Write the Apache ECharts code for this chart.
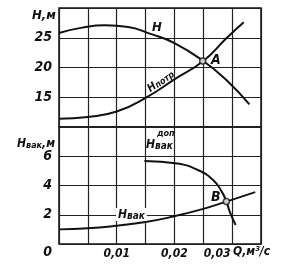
<!DOCTYPE html>
<html>
<head>
<meta charset="utf-8">
<script src="https://cdn.jsdelivr.net/npm/echarts@6/dist/echarts.min.js"></script>
<style>
  html, body { margin: 0; padding: 0; background: #fff; }
  #chart { width: 285px; height: 271px; }
</style>
</head>
<body>
<div id="chart"></div>
<script>
// напор насоса H(Q)
const qPump = [0, 0.004, 0.008, 0.012, 0.016, 0.02, 0.025, 0.029, 0.033]
const hPump = [25.8, 26.7, 27.1, 26.8, 25.6, 24.1, 21.1, 17.9, 13.8]

// потребный напор сети
const qNet = [0, 0.005, 0.01, 0.015, 0.02, 0.025, 0.029, 0.032]
const hNet = [11.4, 11.7, 12.6, 14.9, 18.0, 21.1, 24.9, 27.6]

// вакуумметрическая высота
const qVac = [0, 0.005, 0.01, 0.015, 0.02, 0.025, 0.029, 0.034]
const hVac = [1.0, 1.07, 1.25, 1.5, 1.9, 2.4, 2.9, 3.55]

// допустимая вакуумметрическая высота
const qVacAllow = [0.0148, 0.0205, 0.024, 0.0267, 0.0282, 0.029, 0.0296, 0.0306]
const hVacAllow = [5.68, 5.5, 5.07, 4.38, 3.58, 2.9, 2.2, 1.3]

// рабочие точки
const pointA = [0.0249, 21.1]
const pointB = [0.029, 2.9]

// подписи осей
const xTickValues = [0.01, 0.02, 0.03]
const xTickLabels = ['0,01', '0,02', '0,03']
const yTopLabels = [15, 20, 25]
const yBottomLabels = [0, 2, 4, 6]

const FONT = '"Liberation Sans Narrow", "DejaVu Sans Condensed", "Liberation Sans", sans-serif'
const INK = '#111'

const zip = (xs, ys) => xs.map((x, i) => [x, ys[i]])

const chart = echarts.init(document.getElementById('chart'))

const lineSeries = (data, axisIdx) => ({
  type: 'line',
  xAxisIndex: axisIdx,
  yAxisIndex: axisIdx,
  data: data,
  smooth: 0.5,
  symbol: 'none',
  lineStyle: { color: INK, width: 2 },
  silent: true,
  z: 5
})

const pointSeries = (pt, axisIdx) => ({
  type: 'scatter',
  xAxisIndex: axisIdx,
  yAxisIndex: axisIdx,
  data: [pt],
  symbolSize: 6,
  itemStyle: { color: '#fff', borderColor: INK, borderWidth: 1.5 },
  z: 10
})

const xLabelFor = (v) => {
  const idx = xTickValues.findIndex((t) => Math.abs(t - v) < 1e-9)
  if (idx < 0) return ''
  return idx === xTickValues.length - 1 ? '{s|' + xTickLabels[idx] + '}' : xTickLabels[idx]
}

const axisBase = {
  type: 'value',
  axisLine: { show: false },
  axisTick: { show: false },
  splitLine: { show: true, lineStyle: { color: '#222', width: 1.2 } }
}

const textStyleBase = {
  fontFamily: FONT,
  fontStyle: 'italic',
  fontWeight: 'bold',
  fill: INK
}

const options = {
  backgroundColor: '#fff',
  animation: false,
  grid: [
    { left: 59, top: 8, width: 202, height: 119, show: true, borderColor: INK, borderWidth: 1.5, backgroundColor: 'transparent' },
    { left: 59, top: 127, width: 202, height: 117, show: true, borderColor: INK, borderWidth: 1.5, backgroundColor: 'transparent' }
  ],
  xAxis: [
    { ...axisBase, gridIndex: 0, min: 0, max: 0.035, interval: 0.005, axisLabel: { show: false } },
    {
      ...axisBase,
      gridIndex: 1,
      min: 0,
      max: 0.035,
      interval: 0.005,
      axisLabel: {
        show: true,
        margin: 4,
        color: INK,
        fontFamily: FONT,
        fontStyle: 'italic',
        fontWeight: 'bold',
        fontSize: 12,
        formatter: xLabelFor,
        rich: {
          s: { fontFamily: FONT, fontStyle: 'italic', fontWeight: 'bold', fontSize: 12, color: INK, padding: [0, 30, 0, 0] }
        }
      }
    }
  ],
  yAxis: [
    {
      ...axisBase,
      gridIndex: 0,
      min: 10,
      max: 30,
      interval: 5,
      axisLabel: {
        margin: 7,
        color: INK,
        fontFamily: FONT,
        fontStyle: 'italic',
        fontWeight: 'bold',
        fontSize: 14,
        formatter: (v) => (yTopLabels.includes(v) ? String(v) : '')
      }
    },
    {
      ...axisBase,
      gridIndex: 1,
      min: 0,
      max: 8,
      interval: 2,
      axisLabel: {
        margin: 7,
        color: INK,
        fontFamily: FONT,
        fontStyle: 'italic',
        fontWeight: 'bold',
        fontSize: 14,
        formatter: (v) => {
          if (!yBottomLabels.includes(v)) return ''
          return v === 0 ? '{z|0}' : String(v)
        },
        rich: {
          z: { fontFamily: FONT, fontStyle: 'italic', fontWeight: 'bold', fontSize: 14, color: INK, padding: [16, 0, 0, 0] }
        }
      }
    }
  ],
  series: [
    lineSeries(zip(qPump, hPump), 0),
    lineSeries(zip(qNet, hNet), 0),
    lineSeries(zip(qVac, hVac), 1),
    lineSeries(zip(qVacAllow, hVacAllow), 1),
    pointSeries(pointA, 0),
    pointSeries(pointB, 1)
  ],
  graphic: [
    // H,м
    { type: 'text', left: 32, top: 9, style: { ...textStyleBase, text: 'H,м', fontSize: 13 } },
    // Hвак,м
    {
      type: 'text', left: 17, top: 138,
      style: {
        ...textStyleBase,
        text: '{a|H}{b|вак}{a|,м}',
        rich: {
          a: { fontFamily: FONT, fontStyle: 'italic', fontWeight: 'bold', fontSize: 12, color: INK },
          b: { fontFamily: FONT, fontStyle: 'italic', fontWeight: 'bold', fontSize: 9, color: INK, padding: [4, 0, 0, 0] }
        }
      }
    },
    // H
    { type: 'text', left: 152, top: 21, style: { ...textStyleBase, text: 'H', fontSize: 13 } },
    // A
    { type: 'text', left: 211, top: 53, style: { ...textStyleBase, text: 'A', fontSize: 14 } },
    // Hпотр
    {
      type: 'text', x: 145, y: 85, rotation: 0.62,
      style: {
        ...textStyleBase,
        text: '{a|H}{b|потр}',
        rich: {
          a: { fontFamily: FONT, fontStyle: 'italic', fontWeight: 'bold', fontSize: 11, color: INK },
          b: { fontFamily: FONT, fontStyle: 'italic', fontWeight: 'bold', fontSize: 9, color: INK, padding: [3, 0, 0, 0] }
        }
      }
    },
    // Hвак доп
    { type: 'text', left: 157, top: 129, style: { ...textStyleBase, text: 'доп', fontSize: 9 } },
    {
      type: 'text', left: 146, top: 139,
      style: {
        ...textStyleBase,
        text: '{a|H}{b|вак}',
        rich: {
          a: { fontFamily: FONT, fontStyle: 'italic', fontWeight: 'bold', fontSize: 12, color: INK },
          b: { fontFamily: FONT, fontStyle: 'italic', fontWeight: 'bold', fontSize: 10, color: INK, padding: [3, 0, 0, 0] }
        }
      }
    },
    // B
    { type: 'text', left: 211, top: 190, style: { ...textStyleBase, text: 'B', fontSize: 14 } },
    // Hвак
    {
      type: 'text', left: 116, top: 208, z: 20,
      style: {
        ...textStyleBase,
        text: '{a|H}{b|вак}',
        backgroundColor: '#fff',
        padding: [0, 2, 0, 2],
        rich: {
          a: { fontFamily: FONT, fontStyle: 'italic', fontWeight: 'bold', fontSize: 12, color: INK },
          b: { fontFamily: FONT, fontStyle: 'italic', fontWeight: 'bold', fontSize: 10, color: INK, padding: [3, 0, 0, 0] }
        }
      }
    },
    // Q,м³/с
    { type: 'text', left: 233, top: 246, style: { ...textStyleBase, text: 'Q,м³/с', fontSize: 12 } }
  ]
}

chart.setOption(options)
</script>
</body>
</html>
